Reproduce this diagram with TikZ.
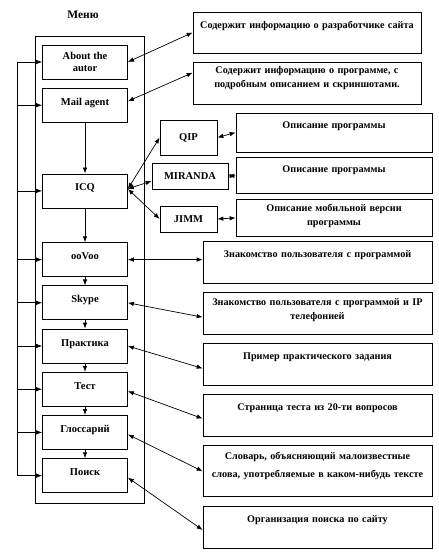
\documentclass[tikz,border=0pt]{standalone}
\usepackage{fontspec}
\setmainfont{Liberation Serif}[BoldFont={Liberation Serif Bold}]
\usetikzlibrary{arrows.meta,positioning}

\newcommand{\menufont}{\bfseries\fontsize{10.5}{12.5}\selectfont}
\newcommand{\infofont}{\bfseries\fontsize{10.2}{14}\selectfont}

\begin{document}
\begin{tikzpicture}[x=1pt,y=-1pt,node distance=8.5pt,>={Latex[length=6pt,width=4.5pt]},line width=0.7pt]
\tikzstyle{menubox}=[rectangle,draw=black,align=center,minimum width=85pt,minimum height=34pt,inner sep=1pt,font=\menufont]
\tikzstyle{oneline}=[text height=7pt,text depth=7pt]
\tikzstyle{progbox}=[rectangle,draw=black,align=center,minimum height=26pt,inner sep=1pt,font=\menufont]
\tikzstyle{infobox}=[rectangle,draw=black,align=center,inner sep=2pt,font=\infofont]
\useasboundingbox (0,0) rectangle (439,555);

\node[draw=black,minimum width=109pt,minimum height=467pt] (menu) at (89.5,269.5) {};
\node[font=\bfseries\fontsize{11.5}{13}\selectfont] (title) at (83,15) {Меню};

\node[menubox] (about) at (85,62) {About the\\autor};
\node[menubox,oneline,below=of about] (mail) {Mail agent};
\node[menubox,oneline,below=51pt of mail] (icq) {ICQ};
\node[menubox,oneline,below=34pt of icq] (oovoo) {ooVoo};
\node[menubox,oneline,below=of oovoo] (skype) {Skype};
\node[menubox,oneline,below=of skype] (practice) {Практика};
\node[menubox,oneline,below=of practice] (test) {Тест};
\node[menubox,oneline,below=of test] (gloss) {Глоссарий};
\node[menubox,oneline,below=of gloss] (search) {Поиск};

\node[progbox,minimum width=57pt,minimum height=35pt] (qip) at (188.5,137.5) {QIP};
\node[progbox,minimum width=76pt] (miranda) at (190,176) {MIRANDA};
\node[progbox,minimum width=57pt] (jimm) at (188.5,219) {JIMM};

\node[infobox,text width=224pt,text height=14pt,text depth=23pt] (infoabout) at (307,32.5) {Содержит информацию о разработчике сайта};
\node[infobox,text width=224pt,text height=9pt,text depth=29pt,below=9pt of infoabout] (infomail) {Содержит информацию о программе, с\\подробным описанием и скриншотами.};

\node[infobox,text width=192pt,text height=13pt,text depth=22pt] (descqip) at (334,132.5) {Описание программы};
\node[infobox,text width=192pt,text height=13pt,text depth=19pt,below=5pt of descqip] (descmiranda) {Описание программы};
\node[infobox,text width=192pt,text height=10.5pt,text depth=22.5pt,below=5pt of descmiranda] (descjimm) {Описание мобильной версии\\программы};

\node[infobox,text width=225pt,text height=14pt,text depth=24pt] (infooovoo) at (317.5,262) {Знакомство пользователя с программой};
\node[infobox,text width=225pt,text height=11.5pt,text depth=26.5pt,below=of infooovoo] (infoskype) {Знакомство пользователя с программой и IP\\телефонией};
\node[infobox,text width=225pt,text height=14pt,text depth=24pt,below=of infoskype] (infopractice) {Пример практического задания};
\node[infobox,text width=225pt,text height=14pt,text depth=24pt,below=of infopractice] (infotest) {Страница теста из 20-ти вопросов};
\node[infobox,text width=225pt,text height=11.5pt,text depth=35.5pt,below=of infotest] (infogloss) {Словарь, объясняющий малоизвестные\\[4pt]слова, употребляемые в каком-нибудь тексте};
\node[infobox,text width=225pt,text height=14pt,text depth=24pt,below=of infogloss] (infosearch) {Организация поиска по сайту};

\coordinate (rail) at (17,62);
\draw (rail) -- (rail |- search.west);
\foreach \n in {about,mail,icq,oovoo,skype,practice,test,gloss,search}
  \draw[->] (rail |- \n.west) -- (\n.west);
\foreach \a/\b in {mail/icq,icq/oovoo,oovoo/skype,skype/practice,practice/test,test/gloss,gloss/search}
  \draw[->] (\a) -- (\b);

\draw[<->] (about.east) -- (infoabout.west);
\draw[<->] ([yshift=4pt]mail.east) -- ([yshift=11pt]infomail.west);
\draw[<->] ([yshift=2pt]icq.east) -- (qip.west);
\draw[<->] ([yshift=2pt]icq.east) -- ([yshift=-5pt]miranda.west);
\draw[<->] ([yshift=2pt]icq.east) -- (jimm.west);
\draw[<->] (qip.east) -- (descqip.west);
\draw[<->] (miranda.east) -- (descmiranda.west);
\draw[<->] (jimm.east) -- (descjimm.west);
\draw[<->] (oovoo.east) -- (oovoo.east -| infooovoo.west);
\draw[<->] (skype.east) -- ([yshift=-4pt]infoskype.west);
\draw[<->] (practice.east) -- ([yshift=-4pt]infopractice.west);
\draw[<->] ([yshift=-2pt]test.east) -- ([yshift=-3pt]infotest.west);
\draw[<->] ([yshift=-2pt]gloss.east) -- (infogloss.west);
\draw[<->] ([yshift=-2pt]search.east) -- ([yshift=-3pt]infosearch.west);
\end{tikzpicture}
\end{document}
